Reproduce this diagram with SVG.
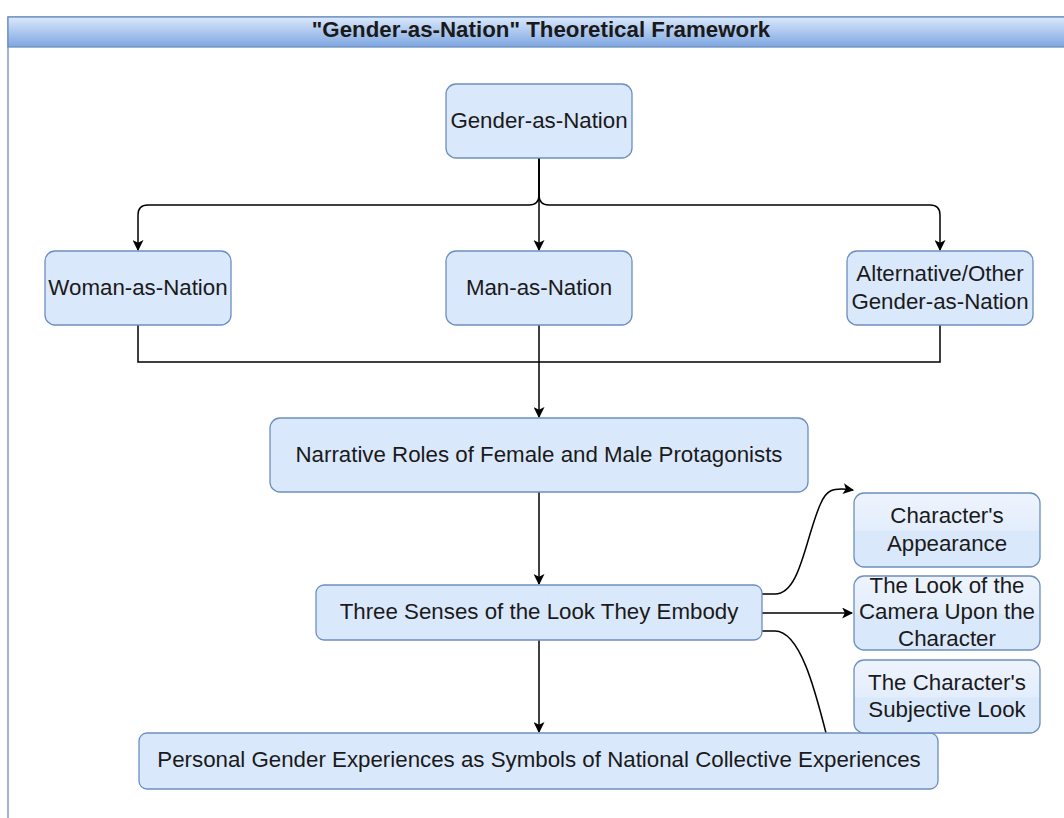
<svg xmlns="http://www.w3.org/2000/svg" width="1064" height="818" viewBox="0 0 1064 818">
<style>
text{font-family:"Liberation Sans",Arial,sans-serif;font-size:22.3px;fill:#1a1a1a;text-anchor:middle;dominant-baseline:central}
.node{fill:#dae8fc;stroke:#6c8ebf;stroke-width:1.3}
.glass{fill:url(#glass);stroke:#6c8ebf;stroke-width:1.3}
.edge{fill:none;stroke:#000;stroke-width:1.5}
.title{font-weight:bold}
</style>
<defs>
<linearGradient id="hdr" x1="0" y1="0" x2="0" y2="1">
<stop offset="0" stop-color="#dae8fc"/>
<stop offset="1" stop-color="#7ea6e0"/>
</linearGradient>
<linearGradient id="glass" x1="0" y1="0" x2="0" y2="1">
<stop offset="0" stop-color="#eef4fd"/>
<stop offset="0.5" stop-color="#e3edfc"/>
<stop offset="0.52" stop-color="#dae8fc"/>
<stop offset="1" stop-color="#dae8fc"/>
</linearGradient>
<marker id="arr" viewBox="0 0 10 10" refX="9" refY="5" markerWidth="11" markerHeight="11" markerUnits="userSpaceOnUse" orient="auto">
<path d="M0,0 L10,5 L0,10 L2.5,5 Z" fill="#000"/>
</marker>
</defs>
<rect x="0" y="0" width="1064" height="818" fill="#fff"/>
<g id="container">
<rect x="8" y="17" width="1070" height="820" fill="#fff" stroke="#6c8ebf" stroke-width="1.3"/>
<rect x="8" y="17" width="1070" height="30" fill="url(#hdr)" stroke="#6c8ebf" stroke-width="1.3"/>
<text class="title" x="541" y="29">"Gender-as-Nation" Theoretical Framework</text>
</g>
<g id="connectors">
<path class="edge" d="M539,158 V195 Q539,205 529,205 H148 Q138,205 138,215 V250" marker-end="url(#arr)"/>
<path class="edge" d="M539,158 V195 Q539,205 549,205 H930 Q940,205 940,215 V250" marker-end="url(#arr)"/>
<path class="edge" d="M539,158 V250" marker-end="url(#arr)"/>
<path class="edge" d="M138,325 V362 H940 V325"/>
<path class="edge" d="M539,325 V417" marker-end="url(#arr)"/>
<path class="edge" d="M539,492 V584" marker-end="url(#arr)"/>
<path class="edge" d="M539,640 V732" marker-end="url(#arr)"/>
<path class="edge" d="M762,594 H775 C800,594 805,540 820,505 C826,490 832,487 853,490" marker-end="url(#arr)"/>
<path class="edge" d="M762,613 H852" marker-end="url(#arr)"/>
<path class="edge" d="M762,631 H775 C800,631 815,690 826,733"/>
</g>
<g id="n-gender"><rect class="node" x="446" y="84" width="186" height="74" rx="10"/><text x="539" y="120">Gender-as-Nation</text></g>
<g id="n-woman"><rect class="node" x="45" y="251" width="186" height="74" rx="10"/><text x="138" y="287">Woman-as-Nation</text></g>
<g id="n-man"><rect class="node" x="446" y="251" width="186" height="74" rx="10"/><text x="539" y="287">Man-as-Nation</text></g>
<g id="n-alt"><rect class="node" x="847" y="251" width="186" height="74" rx="10"/><text x="940" y="273">Alternative/Other</text><text x="940" y="301">Gender-as-Nation</text></g>
<g id="n-narrative"><rect class="node" x="270" y="418" width="538" height="74" rx="10"/><text x="539" y="454">Narrative Roles of Female and Male Protagonists</text></g>
<g id="n-three"><rect class="node" x="316" y="585" width="446" height="55" rx="8"/><text x="539" y="611">Three Senses of the Look They Embody</text></g>
<g id="n-personal"><rect class="node" x="139" y="733" width="799" height="56" rx="8"/><text x="539" y="759">Personal Gender Experiences as Symbols of National Collective Experiences</text></g>
<g id="n-appearance"><rect class="glass" x="854" y="493" width="186" height="74" rx="10"/><text x="947" y="515">Character's</text><text x="947" y="543">Appearance</text></g>
<g id="n-camera"><rect class="glass" x="854" y="576" width="186" height="74" rx="10"/><text x="947" y="585">The Look of the</text><text x="947" y="611">Camera Upon the</text><text x="947" y="638">Character</text></g>
<g id="n-subjective"><rect class="glass" x="854" y="660" width="186" height="73" rx="10"/><text x="947" y="682">The Character's</text><text x="947" y="709">Subjective Look</text></g>
</svg>
